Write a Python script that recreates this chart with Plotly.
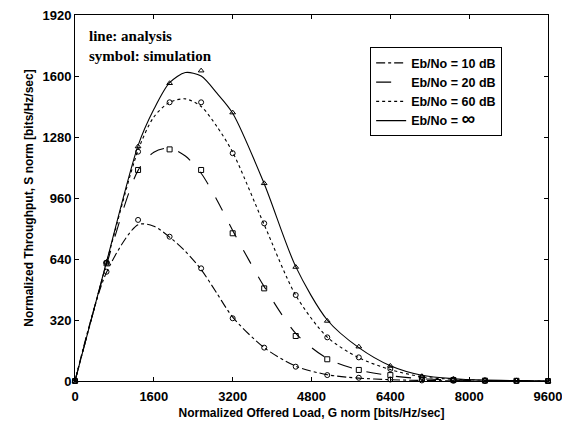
import plotly.graph_objects as go

# Analysis (lines)
G_line = [0, 640, 1280, 1600, 1920, 2240, 2560, 2880, 3200, 3840, 4480, 5120, 5760, 6400, 7040, 7680, 8320, 8960, 9600]
S_line_10 = [0, 570, 820, 812, 755, 680, 585, 460, 335, 175, 78, 33, 15, 7, 3, 1, 0, 0, 0]
S_line_20 = [0, 610, 1105, 1200, 1222, 1180, 1090, 950, 790, 495, 250, 118, 58, 28, 12, 5, 2, 1, 0]
S_line_60 = [0, 620, 1210, 1385, 1462, 1480, 1440, 1335, 1200, 820, 450, 230, 122, 60, 22, 9, 3, 1, 0]
S_line_inf = [0, 625, 1235, 1425, 1565, 1618, 1600, 1510, 1405, 1035, 600, 320, 175, 80, 30, 12, 5, 2, 0]

# Simulation (symbols)
G_sim = [0, 640, 1280, 1920, 2560, 3200, 3840, 4480, 5120, 5760, 6400, 7040, 7680, 8320, 8960, 9600]
S_sim_10 = [0, 573, 845, 757, 591, 329, 175, 75, 31, 17, 8, 3, 1, 0, 0, 0]
S_sim_20 = [0, 617, 1107, 1215, 1107, 775, 486, 236, 114, 58, 31, 12, 5, 2, 1, 0]
S_sim_60 = [0, 620, 1203, 1462, 1462, 1195, 827, 451, 229, 124, 63, 20, 8, 3, 1, 0]
S_sim_inf = [0, 625, 1230, 1562, 1628, 1408, 1037, 598, 315, 180, 79, 25, 10, 4, 2, 0]

x_ticks = [0, 1600, 3200, 4800, 6400, 8000, 9600]
y_ticks = [0, 320, 640, 960, 1280, 1600, 1920]

names = ["Eb/No = 10 dB", "Eb/No = 20 dB", "Eb/No = 60 dB",
         "Eb/No = <span style='font-size:19px'>\u221e</span>"]
dashes = ["dashdot", "longdash", "dot", "solid"]
symbols = ["circle-open", "square-open", "circle-open", "triangle-up-open"]
lines = [S_line_10, S_line_20, S_line_60, S_line_inf]
sims = [S_sim_10, S_sim_20, S_sim_60, S_sim_inf]

fig = go.Figure()
for nm, d, ys in zip(names, dashes, lines):
    fig.add_trace(go.Scatter(x=G_line, y=ys, mode="lines", name=nm,
                             line=dict(color="black", width=1.1, dash=d, shape="spline", smoothing=0.8),
                             cliponaxis=False))
for sym, ys in zip(symbols, sims):
    fig.add_trace(go.Scatter(x=G_sim, y=ys, mode="markers", showlegend=False,
                             marker=dict(symbol=sym, size=5, color="black", line=dict(width=1, color="black")),
                             cliponaxis=False))

axis_common = dict(showline=True, linecolor="black", linewidth=1, mirror="ticks",
                   ticks="inside", ticklen=4, tickcolor="black", showgrid=False, zeroline=False,
                   ticklabeloverflow="allow", automargin=False,
                   tickfont=dict(family="Liberation Sans", size=13, color="black", weight="bold"))

fig.update_layout(
    width=562, height=422,
    margin=dict(l=75, r=14, t=15, b=41),
    paper_bgcolor="white", plot_bgcolor="white",
    xaxis=dict(range=[0, 9600], tickvals=x_ticks, ticktext=[str(v) for v in x_ticks],
               ticklabelstandoff=3,
               title=dict(text="Normalized Offered Load, G norm [bits/Hz/sec]", standoff=6,
                          font=dict(family="Liberation Sans", size=12, color="black", weight="bold")),
               **axis_common),
    yaxis=dict(range=[0, 1920], tickvals=y_ticks, ticktext=[str(v) for v in y_ticks],
               title=dict(text="Normalized Throughput, S norm [bits/Hz/sec]", standoff=6,
                          font=dict(family="Liberation Sans", size=12, color="black", weight="bold")),
               **axis_common),
    legend=dict(x=0.624, y=0.912, xanchor="left", yanchor="top",
                bordercolor="black", borderwidth=1, bgcolor="white",
                font=dict(family="Liberation Sans", size=12.5, color="black", weight="bold"),
                tracegroupgap=0, itemwidth=30),
    annotations=[
        dict(text="line: analysis<br>symbol: simulation", xref="paper", yref="paper",
             x=0.025, y=0.97, xanchor="left", yanchor="top", align="left", showarrow=False,
             font=dict(family="Liberation Serif", size=15, color="black", weight="bold")),
    ],
)

fig.write_html("out.html")
